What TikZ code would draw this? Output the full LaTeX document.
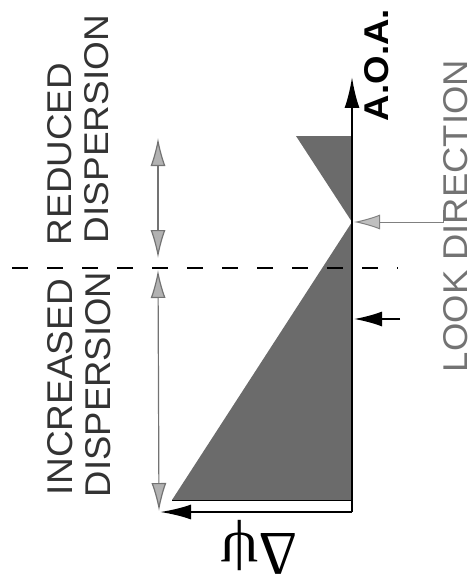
\documentclass[tikz,border=0pt]{standalone}
\usepackage{fontspec}
\setmainfont{Liberation Sans}
\newfontfamily\greekserif{Liberation Serif}
\usetikzlibrary{arrows.meta}
\begin{document}
\begin{tikzpicture}[x=1pt,y=-1pt,
  lbl/.style={inner sep=0pt, outer sep=0pt, rotate=90, text=black!80},
  lookl/.style={inner sep=0pt, outer sep=0pt, rotate=90, text=black!55},
  aoal/.style={inner sep=0pt, outer sep=0pt, rotate=90, text=black, font=\bfseries},
  blackarrow/.style={line width=2.4pt, -{Latex[length=31pt,width=15pt]}},
  smallarrow/.style={line width=2pt, -{Latex[length=28pt,width=15pt]}},
  grayarrow/.style={draw=black!55, line width=1.2pt,
    {Latex[length=28pt,width=15pt,fill=black!30]}-{Latex[length=28pt,width=15pt,fill=black!30]}},
  lookarrow/.style={draw=black!50, line width=1pt, -{Latex[length=26pt,width=15pt,fill=black!25]}},
  shade/.style={fill=black!58},
  dashline/.style={line width=2pt, dash pattern=on 16pt off 19pt}
]
\useasboundingbox (0,0) rectangle (475,583);

% key points
\coordinate (apex) at (352,222);
\coordinate (utl) at (296,136);
\coordinate (utr) at (352,136);
\coordinate (lbl) at (172,500);
\coordinate (lbr) at (352,500);
\coordinate (orig) at (352,512);
\coordinate (aoatip) at (352,77);
\coordinate (xtip) at (160,512);

% shaded V
\fill[shade] (apex) -- (utl) -- (utr) -- cycle;
\fill[shade] (apex) -- (lbl) -- (lbr) -- cycle;
\draw[line width=1pt] (lbl) -- (lbr);

% axes
\draw[blackarrow] (orig) -- (aoatip);
\draw[blackarrow] (orig) -- (xtip);

% black marker arrow
\coordinate (ma) at (400,319);
\coordinate (mb) at (354,319);
\draw[smallarrow] (ma) -- (mb);

% look direction leader
\coordinate (la) at (443,210);
\coordinate (lb) at (443,222);
\coordinate (lc) at (354,222);
\draw[lookarrow] (la) -- (lb) -- (lc);

% dashed divider
\coordinate (da) at (12,268);
\coordinate (db) at (398,268);
\draw[dashline] (da) -- (db);

% dispersion ranges
\coordinate (r1a) at (158,138);
\coordinate (r1b) at (158,258);
\coordinate (r2a) at (158,270);
\coordinate (r2b) at (159,511);
\draw[grayarrow] (r1a) -- (r1b);
\draw[grayarrow] (r2a) -- (r2b);

% labels
\node[lbl] (red) at (60,154) {\resizebox{182pt}{24pt}{REDUCED}};
\node[lbl] (disp1) at (96.5,129) {\resizebox{228pt}{24pt}{DISPERSION}};
\node[lbl] (inc) at (60.5,387) {\resizebox{216pt}{25pt}{INCREASED}};
\node[lbl] (disp2) at (98,384.5) {\resizebox{225pt}{25pt}{DISPERSION}};
\node[aoal] (aoa) at (376.5,65) {\resizebox{112pt}{24pt}{A.O.A.}};
\node[lookl] (look) at (456,216) {\resizebox{312pt}{24pt}{LOOK DIRECTION}};
\node[inner sep=0pt, rotate=180] (dpsi) at (259,547) {\resizebox*{76pt}{54pt}{\greekserif Δψ}};
\end{tikzpicture}
\end{document}
